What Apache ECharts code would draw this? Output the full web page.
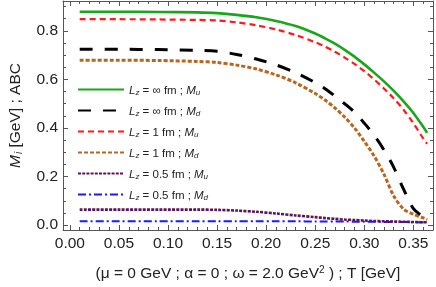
<!DOCTYPE html>
<html>
<head>
<meta charset="utf-8">
<script src="https://cdn.jsdelivr.net/npm/echarts@6/dist/echarts.min.js"></script>
<style>
html,body{margin:0;padding:0;background:#fff;}
#chart{width:436px;height:287px;}
</style>
</head>
<body>
<div id="chart"></div>
<script>
// Temperature grid (GeV)
var T = [0.01, 0.05, 0.09, 0.13, 0.15, 0.17, 0.19, 0.21, 0.23, 0.25, 0.26, 0.27, 0.28, 0.29, 0.30, 0.31, 0.32, 0.33, 0.34, 0.35, 0.36, 0.364];
// Series values (GeV)
var infMu   = [0.879, 0.879, 0.878, 0.876, 0.873, 0.866, 0.856, 0.841, 0.820, 0.789, 0.769, 0.747, 0.722, 0.694, 0.662, 0.628, 0.592, 0.553, 0.510, 0.462, 0.405, 0.380];
var infMd   = [0.724, 0.724, 0.723, 0.720, 0.716, 0.703, 0.684, 0.660, 0.628, 0.587, 0.562, 0.532, 0.500, 0.465, 0.420, 0.370, 0.310, 0.238, 0.148, 0.068, 0.035, 0.030];
var one_Mu  = [0.848, 0.848, 0.847, 0.845, 0.843, 0.835, 0.823, 0.806, 0.783, 0.753, 0.735, 0.714, 0.690, 0.664, 0.634, 0.600, 0.563, 0.522, 0.475, 0.420, 0.357, 0.335];
var one_Md  = [0.679, 0.679, 0.678, 0.674, 0.670, 0.659, 0.643, 0.619, 0.586, 0.542, 0.515, 0.483, 0.445, 0.400, 0.345, 0.285, 0.210, 0.120, 0.066, 0.045, 0.030, 0.023];
var half_Mu = [0.064, 0.064, 0.064, 0.064, 0.063, 0.060, 0.055, 0.048, 0.040, 0.033, 0.029, 0.026, 0.023, 0.021, 0.019, 0.017, 0.016, 0.015, 0.014, 0.013, 0.012, 0.012];
var half_Md = [0.016, 0.016, 0.016, 0.016, 0.016, 0.016, 0.016, 0.016, 0.016, 0.015, 0.015, 0.015, 0.015, 0.014, 0.014, 0.014, 0.013, 0.013, 0.013, 0.012, 0.012, 0.012];

// Tick labels
var xTicks = [0.00, 0.05, 0.10, 0.15, 0.20, 0.25, 0.30, 0.35];
var yTicks = [0.0, 0.2, 0.4, 0.6, 0.8];
var xMinor = [];
for (var k = 0; k <= 37; k++) xMinor.push(+(k * 0.01).toFixed(2));
var yMinor = [];
for (var j = 0; j <= 18; j++) yMinor.push(+(j * 0.05).toFixed(2));

// Legend labels (rich text)
var names = ['inf_u', 'inf_d', 'one_u', 'one_d', 'half_u', 'half_d'];
var legendText = [
  '{i|L}{s|z}{n| = ∞ fm ; }{i|M}{s|u}',
  '{i|L}{s|z}{n| = ∞ fm ; }{i|M}{s|d}',
  '{i|L}{s|z}{n| = 1 fm ; }{i|M}{s|u}',
  '{i|L}{s|z}{n| = 1 fm ; }{i|M}{s|d}',
  '{i|L}{s|z}{n| = 0.5 fm ; }{i|M}{s|u}',
  '{i|L}{s|z}{n| = 0.5 fm ; }{i|M}{s|d}'
];
var values = [infMu, infMd, one_Mu, one_Md, half_Mu, half_Md];
var colors = ['#1aa61a', '#000000', '#ff1a1a', '#b8651e', '#5a1658', '#1a1aff'];
var widths = [2.6, 3, 2.2, 3, 2.6, 2];
var dashes = ['solid', [13, 12], [6, 4], [4, 2], [3, 1.2], [8, 3, 2, 3]];

var FONT = '"Liberation Sans", Arial, sans-serif';
var frameColor = '#555';

function pairs(arr) { return T.map(function (t, i) { return [t, arr[i]]; }); }

var series = values.map(function (v, i) {
  return {
    name: names[i], type: 'line', data: pairs(v), smooth: 0.3, symbol: 'none',
    xAxisIndex: 0, yAxisIndex: 0,
    lineStyle: { color: colors[i], width: widths[i], type: dashes[i] },
    itemStyle: { color: colors[i] },
    z: 10 - i
  };
});

var XMIN = -0.007, XMAX = 0.370, YMIN = -0.02, YMAX = 0.923;

function xAx(pos, customTicks, len, showLabel, showLine) {
  return {
    type: 'value', position: pos, min: XMIN, max: XMAX,
    axisLine: { show: showLine, onZero: false, lineStyle: { color: frameColor, width: 1 } },
    axisTick: { show: true, inside: true, length: len, customValues: customTicks, lineStyle: { color: frameColor, width: 1 } },
    axisLabel: { show: showLabel, customValues: xTicks, margin: 6, color: '#222', fontSize: 15.5, fontFamily: FONT,
      formatter: function (v) { return v.toFixed(2); } },
    splitLine: { show: false }
  };
}
function yAx(pos, customTicks, len, showLabel, showLine) {
  return {
    type: 'value', position: pos, min: YMIN, max: YMAX,
    axisLine: { show: showLine, onZero: false, lineStyle: { color: frameColor, width: 1 } },
    axisTick: { show: true, inside: true, length: len, customValues: customTicks, lineStyle: { color: frameColor, width: 1 } },
    axisLabel: { show: showLabel, customValues: yTicks, margin: 5, color: '#222', fontSize: 15.5, fontFamily: FONT,
      formatter: function (v) { return v.toFixed(1); } },
    splitLine: { show: false }
  };
}

var xAxes = [xAx('bottom', xTicks, 5, true, true), xAx('bottom', xMinor, 3, false, false),
             xAx('top', xTicks, 5, false, true), xAx('top', xMinor, 3, false, false)];
var yAxes = [yAx('left', yTicks, 5, true, true), yAx('left', yMinor, 3, false, false),
             yAx('right', yTicks, 5, false, true), yAx('right', yMinor, 3, false, false)];

xAxes[0].name = '(μ = 0 GeV ; α = 0 ; ω = 2.0 GeV{sup|2} ) ; T [GeV]';
xAxes[0].nameLocation = 'middle';
xAxes[0].nameGap = 35;
xAxes[0].nameTextStyle = { color: '#222', fontSize: 15.5, fontFamily: FONT, verticalAlign: 'top',
  rich: { sup: { fontSize: 10, fontFamily: FONT, color: '#222', verticalAlign: 'top', padding: [0, 0, 8, 0] } } };

yAxes[0].name = '{i|M}{s|i}{n| [GeV] ; ABC}';
yAxes[0].nameLocation = 'middle';
yAxes[0].nameGap = 39;
yAxes[0].nameTextStyle = { color: '#222', fontSize: 15.5, fontFamily: FONT,
  rich: {
    i: { fontStyle: 'italic', fontSize: 15.5, fontFamily: FONT, color: '#222', lineHeight: 18, verticalAlign: 'bottom' },
    s: { fontStyle: 'italic', fontSize: 10, fontFamily: FONT, color: '#222', lineHeight: 12, verticalAlign: 'bottom', padding: [0, 0, 0, 1] },
    n: { fontSize: 15.5, fontFamily: FONT, color: '#222', lineHeight: 18, verticalAlign: 'bottom' }
  } };

var option = {
  animation: false,
  backgroundColor: '#fff',
  grid: { left: 52, right: 3, top: 1, bottom: 50, show: false, containLabel: false },
  xAxis: xAxes.map(function (a) { a.gridIndex = 0; return a; }),
  yAxis: yAxes.map(function (a) { a.gridIndex = 0; return a; }),
  legend: {
    orient: 'vertical', left: 77, top: 84, padding: 0,
    itemWidth: 46, itemHeight: 14, itemGap: 8.4,
    data: names,
    itemStyle: { color: 'rgba(0,0,0,0)', borderColor: 'rgba(0,0,0,0)', borderWidth: 0 },
    formatter: function (n) { return legendText[names.indexOf(n)]; },
    textStyle: {
      fontSize: 11.5, fontFamily: FONT, color: '#222',
      rich: {
        i: { fontStyle: 'italic', fontSize: 11.5, fontFamily: FONT, color: '#222', lineHeight: 14, verticalAlign: 'bottom' },
        s: { fontStyle: 'italic', fontSize: 8, fontFamily: FONT, color: '#222', lineHeight: 10, verticalAlign: 'bottom' },
        n: { fontSize: 11.5, fontFamily: FONT, color: '#222', lineHeight: 14, verticalAlign: 'bottom' }
      }
    }
  },
  series: series
};

var chart = echarts.init(document.getElementById('chart'), null, { renderer: 'canvas' });
chart.setOption(option);
</script>
</body>
</html>
